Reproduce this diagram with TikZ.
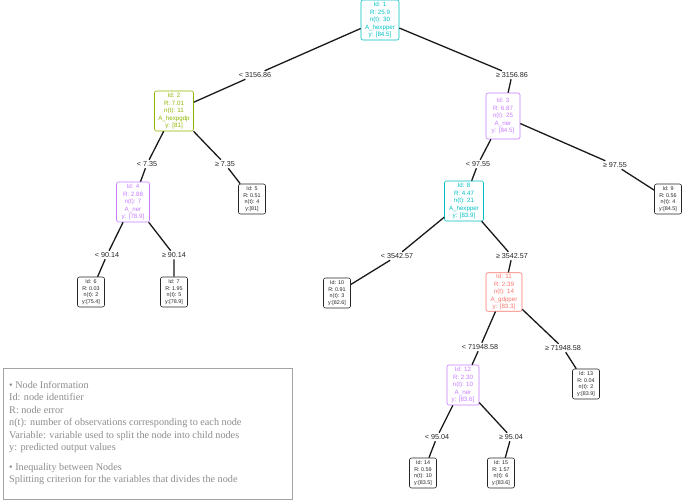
\documentclass[tikz,border=0pt]{standalone}
\usepackage{fontspec}
\setmainfont{Liberation Serif}
\setsansfont{Liberation Sans}
\definecolor{ccyan}{HTML}{00BFC4}
\definecolor{cgreen}{HTML}{8DB600}
\definecolor{cviolet}{HTML}{C77CFF}
\definecolor{cred}{HTML}{F8766D}
\definecolor{legcol}{HTML}{8C8C8C}
\begin{document}
\begin{tikzpicture}[x=1pt,y=-1pt,
  inner/.style={draw=#1, text=#1, rounded corners=2pt, line width=0.6pt, align=center,
     font=\sffamily\fontsize{6.2}{7.6}\selectfont, inner sep=1.2pt, minimum width=34pt, minimum height=40pt},
  leaf/.style={draw=black!85, text=black!85, rounded corners=2pt, line width=0.6pt, align=center,
     font=\sffamily\fontsize{5.4}{6.6}\selectfont, inner sep=1pt, minimum width=27pt, minimum height=30pt},
  lab/.style={font=\sffamily\fontsize{7.2}{8}\selectfont, inner sep=1.5pt, text=black!85},
  edge/.style={draw=black!90, line width=1.3pt}]
\useasboundingbox (0,0) rectangle (685,501);
% nodes
\node[inner=ccyan, minimum width=38pt] (n1) at (380,20) {Id: 1\\R: 25.9\\n(t): 30\\A\_hexpper\\y: [84.5]};
\node[inner=cgreen, minimum width=39pt] (n2) at (174,111) {Id: 2\\R: 7.01\\n(t): 11\\A\_hexpgdp\\y: [81]};
\node[inner=cviolet, minimum height=46pt] (n3) at (503,116) {Id: 3\\R: 6.87\\n(t): 25\\A\_ner\\y: [84.5]};
\node[inner=cviolet, minimum width=33pt] (n4) at (133,202) {Id: 4\\R: 2.88\\n(t): 7\\A\_ner\\y: [78.9]};
\node[leaf] (n5) at (252,199) {Id: 5\\R: 0.51\\n(t): 4\\y:[81]};
\node[inner=ccyan, minimum width=39pt] (n8) at (464,201) {Id: 8\\R: 4.47\\n(t): 21\\A\_hexpper\\y: [83.9]};
\node[leaf] (n9) at (668,199) {Id: 9\\R: 0.56\\n(t): 4\\y:[84.5]};
\node[leaf] (n6) at (91,292) {Id: 6\\R: 0.03\\n(t): 2\\y:[75.4]};
\node[leaf] (n7) at (174,292) {Id: 7\\R: 1.95\\n(t): 5\\y:[78.9]};
\node[leaf] (n10) at (337,293) {Id: 10\\R: 0.91\\n(t): 3\\y:[82.6]};
\node[inner=cred, minimum width=36pt, minimum height=37pt] (n11) at (504,292) {Id: 11\\R: 2.39\\n(t): 14\\A\_gdpper\\y: [83.3]};
\node[inner=cviolet, minimum width=32pt] (n12) at (463,385) {Id: 12\\R: 2.30\\n(t): 10\\A\_ner\\y: [83.6]};
\node[leaf] (n13) at (586,384) {Id: 13\\R: 0.04\\n(t): 2\\y:[83.9]};
\node[leaf] (n14) at (423,473) {Id: 14\\R: 0.59\\n(t): 10\\y:[83.5]};
\node[leaf] (n15) at (501,473) {Id: 15\\R: 1.57\\n(t): 6\\y:[83.6]};
% edge labels
\node[lab] (l2) at (255,75) {< 3156.86};
\node[lab] (l3) at (512,75) {≥ 3156.86};
\node[lab] (l4) at (147,164) {< 7.35};
\node[lab] (l5) at (225,164) {≥ 7.35};
\node[lab] (l8) at (478,164) {< 97.55};
\node[lab] (l9) at (615,165) {≥ 97.55};
\node[lab] (l6) at (107,255) {< 90.14};
\node[lab] (l7) at (174,255) {≥ 90.14};
\node[lab] (l10) at (397,256) {< 3542.57};
\node[lab] (l11) at (512,256) {≥ 3542.57};
\node[lab] (l12) at (480,347) {< 71948.58};
\node[lab] (l13) at (563,348) {≥ 71948.58};
\node[lab] (l14) at (437,437) {< 95.04};
\node[lab] (l15) at (511,437) {≥ 95.04};
% edges
\draw[edge] (n1) -- (l2) -- (n2);
\draw[edge] (n1) -- (l3) -- (n3);
\draw[edge] (n2) -- (l4) -- (n4);
\draw[edge] (n2) -- (l5) -- (n5);
\draw[edge] (n3) -- (l8) -- (n8);
\draw[edge] (n3) -- (l9) -- (n9);
\draw[edge] (n4) -- (l6) -- (n6);
\draw[edge] (n4) -- (l7) -- (n7);
\draw[edge] (n8) -- (l10) -- (n10);
\draw[edge] (n8) -- (l11) -- (n11);
\draw[edge] (n11) -- (l12) -- (n12);
\draw[edge] (n11) -- (l13) -- (n13);
\draw[edge] (n12) -- (l14) -- (n14);
\draw[edge] (n12) -- (l15) -- (n15);
% legend
\node[draw=legcol!80, line width=0.6pt, minimum width=289pt, minimum height=131pt, inner sep=0pt] (leg) at (147.5,433.5) {};
\node[anchor=north west, text=legcol, align=left, inner sep=0pt,
  font=\fontsize{10.2}{12.5}\selectfont] (legtxt) at (9,381)
 {• Node Information\\
  Id: node identifier\\
  R: node error\\
  n(t): number of observations corresponding to each node\\
  Variable: variable used to split the node into child nodes\\
  y: predicted output values\\[7pt]
  • Inequality between Nodes\\
  Splitting criterion for the variables that divides the node};
\end{tikzpicture}
\end{document}
